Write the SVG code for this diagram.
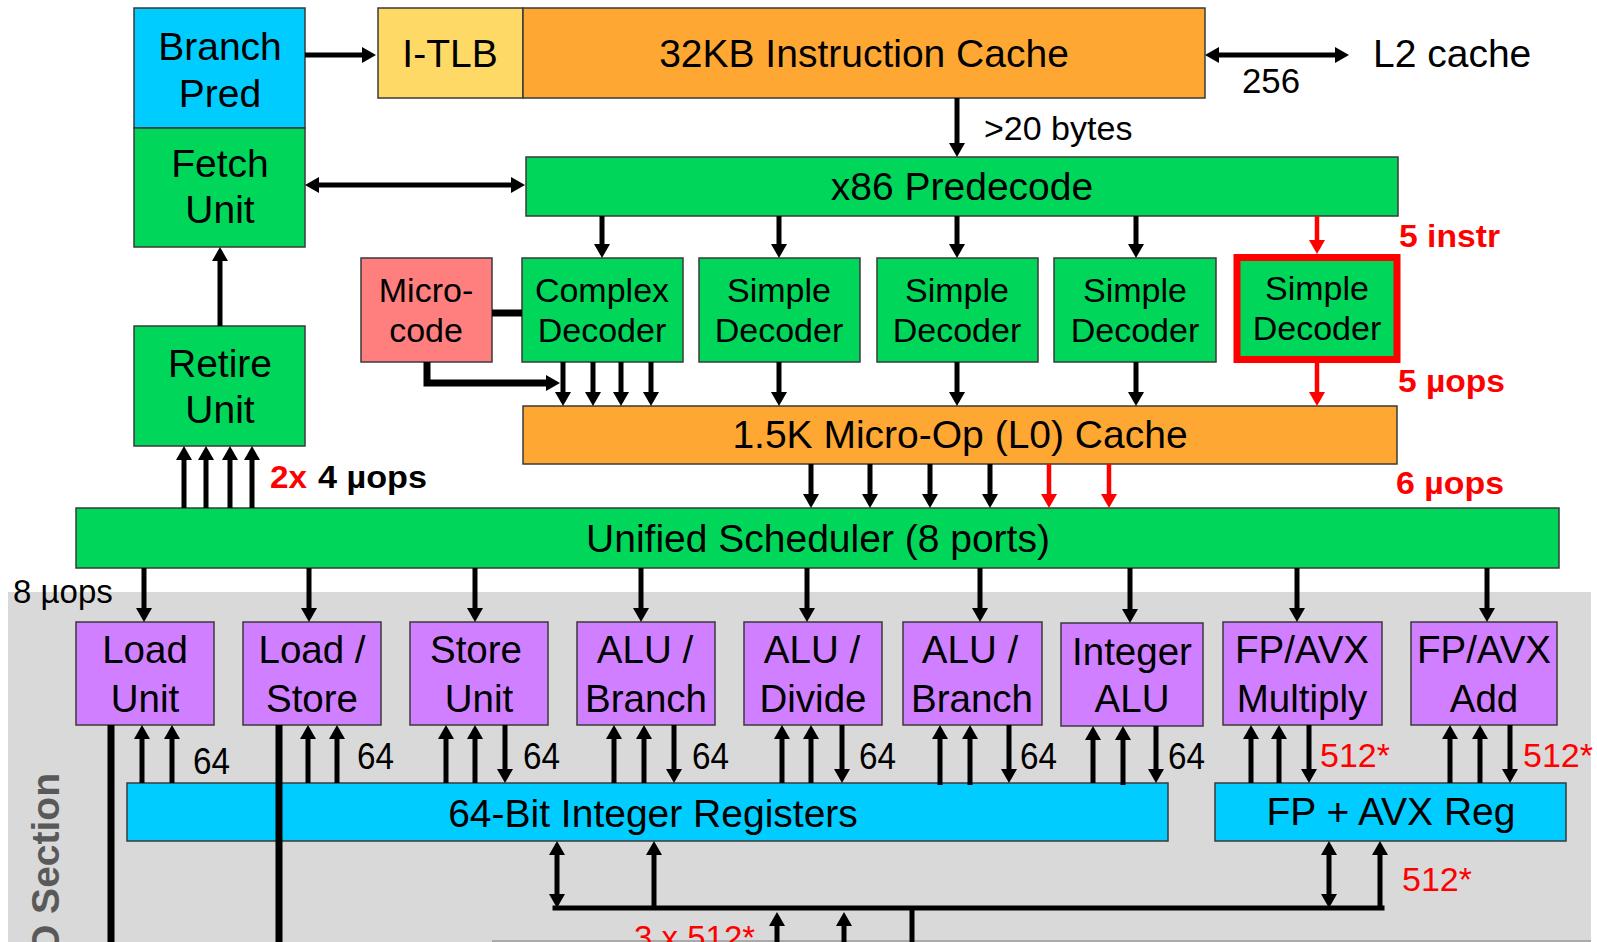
<svg xmlns="http://www.w3.org/2000/svg" width="1597" height="942" viewBox="0 0 1597 942">
<defs>
<style>
.bx{stroke:#3a3a3a;stroke-width:1.5}
.g{fill:#00D75A}.b{fill:#00CCFF}.o{fill:#FFA733}.y{fill:#FFD966}.m{fill:#FF7F7F}.p{fill:#CF7FFF}
text{font-family:"Liberation Sans",Arial,Helvetica,sans-serif;fill:#000}
.L{font-size:39px;text-anchor:middle}
.D{font-size:34px;text-anchor:middle}
.U{font-size:38.5px;text-anchor:middle}
.n{font-size:36px}
.rb{font-size:31px;font-weight:bold;fill:#f00}
.rn{font-size:34px;fill:#f00}
.w{stroke:#000;stroke-width:5;fill:none}
.r{stroke:#f00;stroke-width:4.5;fill:none}
.k{stroke:#000;stroke-width:7;fill:none}
</style>
<marker id="a" viewBox="0 0 14 16" refX="6" refY="8" markerWidth="14" markerHeight="16" markerUnits="userSpaceOnUse" orient="auto-start-reverse"><path d="M0,0 L14,8 L0,16 Z" fill="#000"/></marker>
<marker id="ar" viewBox="0 0 14 16" refX="6" refY="8" markerWidth="14" markerHeight="16" markerUnits="userSpaceOnUse" orient="auto-start-reverse"><path d="M0,0 L14,8 L0,16 Z" fill="#f00"/></marker>
</defs>
<rect width="1597" height="942" fill="#fff"/>
<g id="exec-section">
<rect x="8" y="592" width="1583" height="352" fill="#D9D9D9"/>
<line x1="492" y1="941" x2="1591" y2="941" stroke="#9a9a9a" stroke-width="1.5"/>
<text transform="translate(59,773) rotate(-90)" style="font-size:39px;font-weight:bold;fill:#595959;text-anchor:end">O Section</text>
</g>

<g id="branch-pred"><rect class="bx b" x="134" y="8" width="171" height="120"/><text class="L" x="220" y="60">Branch</text><text class="L" x="220" y="107">Pred</text></g>
<g id="fetch-unit"><rect class="bx g" x="134" y="128" width="171" height="119"/><text class="L" x="220" y="177">Fetch</text><text class="L" x="220" y="223">Unit</text></g>
<g id="retire-unit"><rect class="bx g" x="134" y="326" width="171" height="120"/><text class="L" x="220" y="377">Retire</text><text class="L" x="220" y="423">Unit</text></g>
<g id="itlb"><rect class="bx y" x="378" y="8" width="145" height="90"/><text class="L" x="450" y="67">I-TLB</text></g>
<g id="icache"><rect class="bx o" x="523" y="8" width="682" height="90"/><text class="L" x="864" y="67">32KB Instruction Cache</text></g>
<g id="l2"><text style="font-size:39px" x="1373" y="67">L2 cache</text></g>
<g id="predecode"><rect class="bx g" x="526" y="157" width="872" height="59"/><text class="L" x="962" y="200">x86 Predecode</text></g>
<g id="microcode"><rect class="bx m" x="361" y="258" width="131" height="104"/><text class="D" x="426" y="302">Micro-</text><text class="D" x="426" y="342">code</text></g>
<g id="complex-decoder"><rect class="bx g" x="522" y="258" width="161" height="104"/><text class="D" x="602" y="302">Complex</text><text class="D" x="602" y="342">Decoder</text></g>
<g id="simple-decoder-1"><rect class="bx g" x="699" y="258" width="161" height="104"/><text class="D" x="779" y="302">Simple</text><text class="D" x="779" y="342">Decoder</text></g>
<g id="simple-decoder-2"><rect class="bx g" x="877" y="258" width="161" height="104"/><text class="D" x="957" y="302">Simple</text><text class="D" x="957" y="342">Decoder</text></g>
<g id="simple-decoder-3"><rect class="bx g" x="1054" y="258" width="162" height="104"/><text class="D" x="1135" y="302">Simple</text><text class="D" x="1135" y="342">Decoder</text></g>
<g id="simple-decoder-4"><rect x="1237" y="257.5" width="160" height="102" fill="#00D75A" stroke="#f00" stroke-width="7"/><text class="D" x="1317" y="300">Simple</text><text class="D" x="1317" y="340">Decoder</text></g>
<g id="uop-cache"><rect class="bx o" x="523" y="406" width="874" height="58"/><text class="L" x="960" y="448">1.5K Micro-Op (L0) Cache</text></g>
<g id="scheduler"><rect class="bx g" x="76" y="508" width="1483" height="60"/><text class="L" x="818" y="552">Unified Scheduler (8 ports)</text></g>

<g id="load-unit"><rect class="bx p" x="76" y="622" width="138" height="103"/><text class="U" x="145" y="663">Load</text><text class="U" x="145" y="712">Unit</text></g>
<g id="load-store"><rect class="bx p" x="243" y="622" width="138" height="103"/><text class="U" x="312" y="663">Load /</text><text class="U" x="312" y="712">Store</text></g>
<g id="store-unit"><rect class="bx p" x="410" y="622" width="138" height="103"/><text class="U" x="476" y="663">Store</text><text class="U" x="479" y="712">Unit</text></g>
<g id="alu-branch-1"><rect class="bx p" x="577" y="622" width="138" height="103"/><text class="U" x="645" y="663">ALU /</text><text class="U" x="646" y="712">Branch</text></g>
<g id="alu-divide"><rect class="bx p" x="744" y="622" width="138" height="103"/><text class="U" x="812" y="663">ALU /</text><text class="U" x="813" y="712">Divide</text></g>
<g id="alu-branch-2"><rect class="bx p" x="903" y="622" width="139" height="103"/><text class="U" x="970" y="663">ALU /</text><text class="U" x="972" y="712">Branch</text></g>
<g id="integer-alu"><rect class="bx p" x="1061" y="623" width="142" height="103"/><text class="U" x="1132" y="665">Integer</text><text class="U" x="1132" y="712">ALU</text></g>
<g id="fp-multiply"><rect class="bx p" x="1223" y="622" width="159" height="103"/><text class="U" x="1302" y="663">FP/AVX</text><text class="U" x="1302" y="712">Multiply</text></g>
<g id="fp-add"><rect class="bx p" x="1411" y="622" width="146" height="103"/><text class="U" x="1484" y="663">FP/AVX</text><text class="U" x="1484" y="712">Add</text></g>
<g id="int-regs"><rect class="bx b" x="127" y="783" width="1041" height="58"/><text class="L" x="653" y="827">64-Bit Integer Registers</text></g>
<g id="fp-regs"><rect class="bx b" x="1215" y="783" width="351" height="58"/><text class="L" x="1391" y="825">FP + AVX Reg</text></g>

<g id="connectors">
<line class="w" x1="305" y1="55" x2="368" y2="55" marker-end="url(#a)"/>
<line class="w" x1="1213" y1="55" x2="1341" y2="55" marker-start="url(#a)" marker-end="url(#a)"/>
<line class="w" x1="957" y1="98" x2="957" y2="149" marker-end="url(#a)"/>
<line class="w" x1="313" y1="185" x2="517" y2="185" marker-start="url(#a)" marker-end="url(#a)"/>
<line class="w" x1="602" y1="216" x2="602" y2="250" marker-end="url(#a)"/>
<line class="w" x1="779" y1="216" x2="779" y2="250" marker-end="url(#a)"/>
<line class="w" x1="957" y1="216" x2="957" y2="250" marker-end="url(#a)"/>
<line class="w" x1="1136" y1="216" x2="1136" y2="250" marker-end="url(#a)"/>
<line class="r" x1="1317" y1="216" x2="1317" y2="246" marker-end="url(#ar)"/>
<line class="w" x1="220" y1="326" x2="220" y2="255" marker-end="url(#a)"/>
<line class="k" x1="492" y1="313" x2="522" y2="313"/>
<path class="k" d="M427,362 V383 H552" marker-end="url(#a)"/>
<line class="w" x1="563" y1="362" x2="563" y2="398" marker-end="url(#a)"/>
<line class="w" x1="593" y1="362" x2="593" y2="398" marker-end="url(#a)"/>
<line class="w" x1="621" y1="362" x2="621" y2="398" marker-end="url(#a)"/>
<line class="w" x1="651" y1="362" x2="651" y2="398" marker-end="url(#a)"/>
<line class="w" x1="779" y1="362" x2="779" y2="398" marker-end="url(#a)"/>
<line class="w" x1="957" y1="362" x2="957" y2="398" marker-end="url(#a)"/>
<line class="w" x1="1136" y1="362" x2="1136" y2="398" marker-end="url(#a)"/>
<line class="r" x1="1317" y1="363" x2="1317" y2="398" marker-end="url(#ar)"/>
<line class="w" x1="811" y1="464" x2="811" y2="500" marker-end="url(#a)"/>
<line class="w" x1="870" y1="464" x2="870" y2="500" marker-end="url(#a)"/>
<line class="w" x1="930" y1="464" x2="930" y2="500" marker-end="url(#a)"/>
<line class="w" x1="990" y1="464" x2="990" y2="500" marker-end="url(#a)"/>
<line class="r" x1="1049" y1="464" x2="1049" y2="500" marker-end="url(#ar)"/>
<line class="r" x1="1109" y1="464" x2="1109" y2="500" marker-end="url(#ar)"/>
<line class="w" x1="184" y1="508" x2="184" y2="454" marker-end="url(#a)"/>
<line class="w" x1="206" y1="508" x2="206" y2="454" marker-end="url(#a)"/>
<line class="w" x1="230" y1="508" x2="230" y2="454" marker-end="url(#a)"/>
<line class="w" x1="252" y1="508" x2="252" y2="454" marker-end="url(#a)"/>
<line class="w" x1="144" y1="568" x2="144" y2="614" marker-end="url(#a)"/>
<line class="w" x1="309" y1="568" x2="309" y2="614" marker-end="url(#a)"/>
<line class="w" x1="475" y1="568" x2="475" y2="614" marker-end="url(#a)"/>
<line class="w" x1="641" y1="568" x2="641" y2="614" marker-end="url(#a)"/>
<line class="w" x1="807" y1="568" x2="807" y2="614" marker-end="url(#a)"/>
<line class="w" x1="980" y1="568" x2="980" y2="614" marker-end="url(#a)"/>
<line class="w" x1="1130" y1="568" x2="1130" y2="615" marker-end="url(#a)"/>
<line class="w" x1="1297" y1="568" x2="1297" y2="614" marker-end="url(#a)"/>
<line class="w" x1="1487" y1="568" x2="1487" y2="614" marker-end="url(#a)"/>
<line class="w" x1="142" y1="783" x2="142" y2="733" marker-end="url(#a)"/>
<line class="w" x1="172" y1="783" x2="172" y2="733" marker-end="url(#a)"/>
<line class="w" x1="308" y1="783" x2="308" y2="733" marker-end="url(#a)"/>
<line class="w" x1="337" y1="783" x2="337" y2="733" marker-end="url(#a)"/>
<line class="w" x1="446" y1="783" x2="446" y2="733" marker-end="url(#a)"/>
<line class="w" x1="475" y1="783" x2="475" y2="733" marker-end="url(#a)"/>
<line class="w" x1="505" y1="725" x2="505" y2="775" marker-end="url(#a)"/>
<line class="w" x1="614" y1="783" x2="614" y2="733" marker-end="url(#a)"/>
<line class="w" x1="644" y1="783" x2="644" y2="733" marker-end="url(#a)"/>
<line class="w" x1="674" y1="725" x2="674" y2="775" marker-end="url(#a)"/>
<line class="w" x1="782" y1="783" x2="782" y2="733" marker-end="url(#a)"/>
<line class="w" x1="811" y1="783" x2="811" y2="733" marker-end="url(#a)"/>
<line class="w" x1="842" y1="725" x2="842" y2="775" marker-end="url(#a)"/>
<line class="w" x1="940" y1="785" x2="940" y2="733" marker-end="url(#a)"/>
<line class="w" x1="970" y1="785" x2="970" y2="733" marker-end="url(#a)"/>
<line class="w" x1="1009" y1="725" x2="1009" y2="775" marker-end="url(#a)"/>
<line class="w" x1="1093" y1="783" x2="1093" y2="734" marker-end="url(#a)"/>
<line class="w" x1="1123" y1="785" x2="1123" y2="734" marker-end="url(#a)"/>
<line class="w" x1="1156" y1="726" x2="1156" y2="775" marker-end="url(#a)"/>
<line class="w" x1="1251" y1="783" x2="1251" y2="733" marker-end="url(#a)"/>
<line class="w" x1="1279" y1="783" x2="1279" y2="733" marker-end="url(#a)"/>
<line class="w" x1="1309" y1="725" x2="1309" y2="775" marker-end="url(#a)"/>
<line class="w" x1="1450" y1="783" x2="1450" y2="733" marker-end="url(#a)"/>
<line class="w" x1="1480" y1="783" x2="1480" y2="733" marker-end="url(#a)"/>
<line class="w" x1="1510" y1="725" x2="1510" y2="775" marker-end="url(#a)"/>
<line class="k" x1="111" y1="725" x2="111" y2="945"/>
<line class="k" x1="279" y1="725" x2="279" y2="945"/>
<line class="w" x1="555" y1="908" x2="1382" y2="908" style="stroke-linecap:square"/>
<line class="w" x1="557" y1="849" x2="557" y2="900" marker-start="url(#a)" marker-end="url(#a)"/>
<line class="w" x1="654" y1="908" x2="654" y2="849" marker-end="url(#a)"/>
<line class="w" x1="1329" y1="849" x2="1329" y2="900" marker-start="url(#a)" marker-end="url(#a)"/>
<line class="w" x1="1380" y1="910" x2="1380" y2="849" marker-end="url(#a)"/>
<line class="w" x1="777" y1="945" x2="777" y2="920" marker-end="url(#a)"/>
<line class="w" x1="844" y1="945" x2="844" y2="920" marker-end="url(#a)"/>
<line class="w" x1="912" y1="908" x2="912" y2="945"/>
</g>

<g id="labels">
<text x="1242" y="93" style="font-size:35px" textLength="58" lengthAdjust="spacingAndGlyphs">256</text>
<text x="984" y="140" style="font-size:34px">&gt;20 bytes</text>
<text class="rb" x="1399" y="247" textLength="101" lengthAdjust="spacingAndGlyphs">5 instr</text>
<text class="rb" x="1398" y="392" textLength="107" lengthAdjust="spacingAndGlyphs">5 µops</text>
<text class="rb" x="1396" y="494" textLength="108" lengthAdjust="spacingAndGlyphs">6 µops</text>
<text class="rb" x="270" y="488" textLength="37" lengthAdjust="spacingAndGlyphs">2x</text>
<text x="318" y="488" style="font-size:31px;font-weight:bold" textLength="109" lengthAdjust="spacingAndGlyphs">4 µops</text>
<text x="13" y="603" style="font-size:33px">8 µops</text>
<text class="n" x="193" y="774" textLength="37" lengthAdjust="spacingAndGlyphs">64</text>
<text class="n" x="357" y="769" textLength="37" lengthAdjust="spacingAndGlyphs">64</text>
<text class="n" x="523" y="769" textLength="37" lengthAdjust="spacingAndGlyphs">64</text>
<text class="n" x="692" y="769" textLength="37" lengthAdjust="spacingAndGlyphs">64</text>
<text class="n" x="859" y="769" textLength="37" lengthAdjust="spacingAndGlyphs">64</text>
<text class="n" x="1020" y="769" textLength="37" lengthAdjust="spacingAndGlyphs">64</text>
<text class="n" x="1168" y="769" textLength="37" lengthAdjust="spacingAndGlyphs">64</text>
<text class="rn" x="1320" y="767">512*</text>
<text class="rn" x="1523" y="767">512*</text>
<text class="rn" x="1402" y="891">512*</text>
<text x="634" y="949" style="font-size:33px;fill:#f00">3 x 512*</text>
</g>
</svg>
